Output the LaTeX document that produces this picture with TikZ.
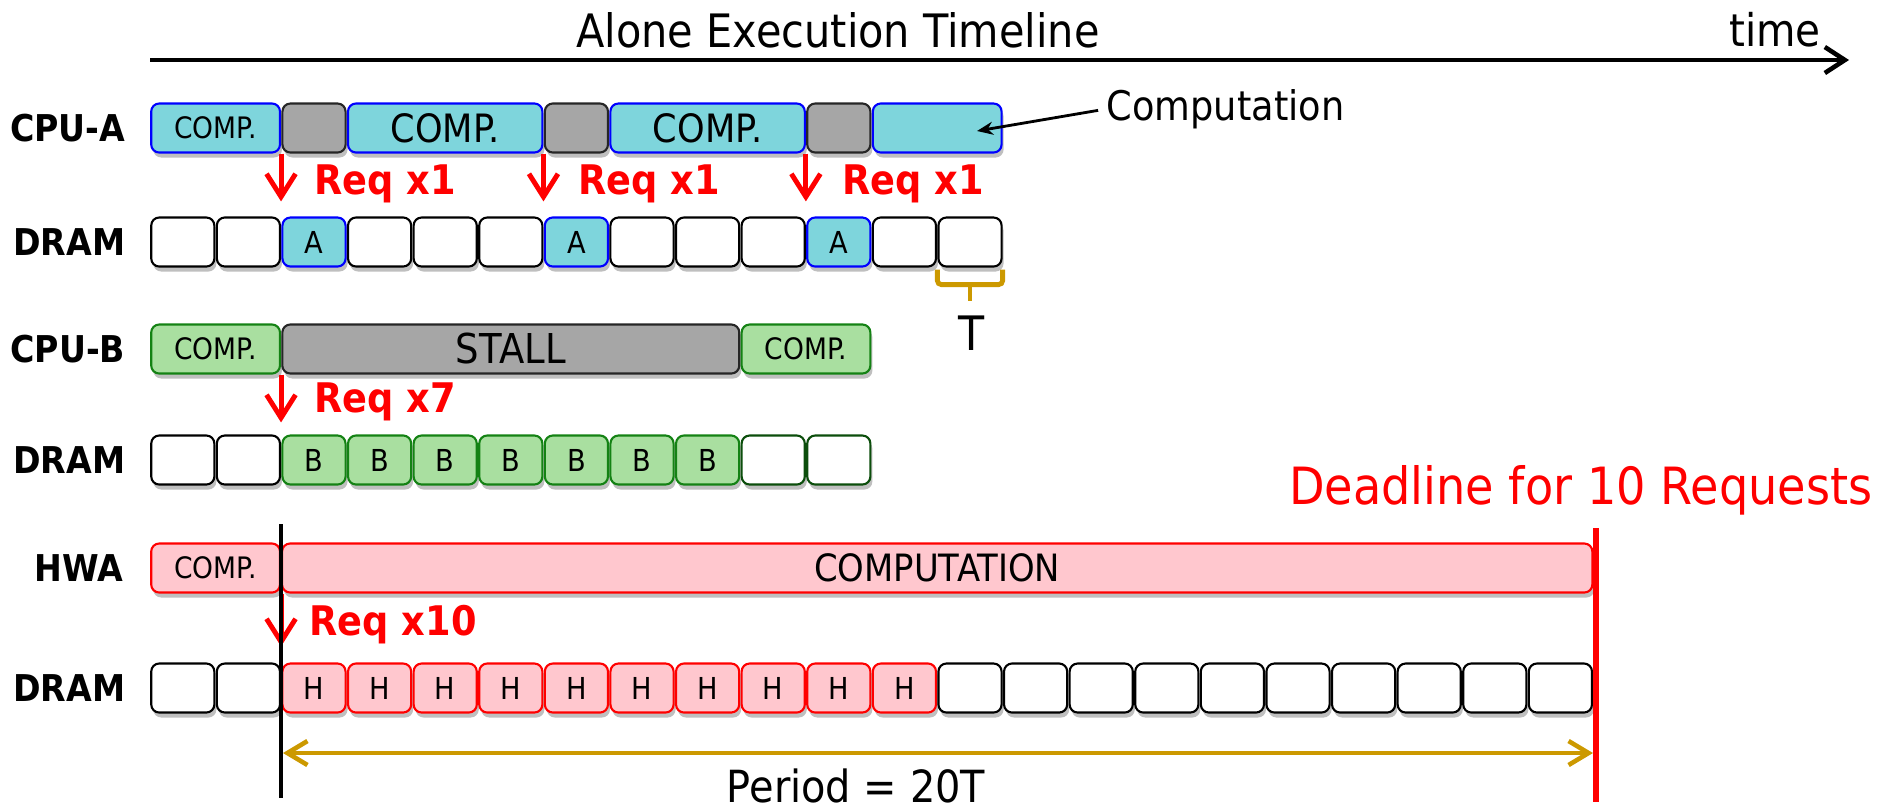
\documentclass[tikz,border=0pt]{standalone}
\usepackage{fontspec}
\setmainfont{DejaVu Sans}[FakeStretch=0.9]
\usetikzlibrary{arrows.meta,shadows}

\definecolor{cyanfill}{RGB}{126,213,220}
\definecolor{stallfill}{RGB}{166,166,166}
\definecolor{greenfill}{RGB}{169,223,160}
\definecolor{greenline}{RGB}{20,130,20}
\definecolor{pinkfill}{RGB}{255,199,206}
\definecolor{gold}{RGB}{204,153,0}

% one block of a row, spanning slots #3..#4 (slot width 65.6px, row starts at x=150)
\newcommand\seg[6]{\node[#1, minimum width={(#4-#3)*0.656cm-0.025cm}] (#2) at ({150+(#3+#4)*32.8},#5) {#6};}

\tikzset{
  blk/.style={rounded corners=0.08cm, minimum height=0.49cm, inner sep=0pt, line width=0.6pt,
    drop shadow={shadow xshift=0.02cm, shadow yshift=-0.05cm, opacity=0.25, fill=black}},
  cA/.style={blk, fill=cyanfill, draw=blue},
  stallbox/.style={blk, fill=stallfill, draw=black!85},
  cB/.style={blk, fill=greenfill, draw=greenline},
  cH/.style={blk, fill=pinkfill, draw=red},
  wcell/.style={blk, fill=white, draw=black},
  wcellg/.style={blk, fill=white, draw=greenline!60!black},
  txt/.style={inner sep=0pt},
  rowlbl/.style={txt, anchor=east, font=\bfseries\fontsize{10.5}{12}\selectfont},
  reqtxt/.style={txt, anchor=west, text=red, font=\bfseries\fontsize{11.6}{13}\selectfont},
  req/.style={draw=red, line width=1.4pt, -{Straight Barb[length=0.23cm, width=0.29cm, line width=1.4pt]}},
}
\newcommand\smallc{\fontsize{8.4}{10}\selectfont}
\newcommand\letterc{\fontsize{8.6}{10}\selectfont}

\begin{document}
\begin{tikzpicture}[x=0.01cm, y=-0.01cm]
\useasboundingbox (0,0) rectangle (1883,811);

% time axis
\coordinate (t0) at (150,60);
\coordinate (t1) at (1849,60);
\draw[line width=1.3pt, -{Straight Barb[length=0.2cm, width=0.26cm, line width=1.3pt]}] (t0) -- (t1);
\node[txt, font=\fontsize{13.1}{15}\selectfont] (title) at (838,30) {Alone Execution Timeline};
\node[txt, font=\fontsize{12.8}{15}\selectfont] (time) at (1775,30) {time};

% row labels
\node[rowlbl] (lA)  at (126,128) {CPU-A};
\node[rowlbl] (lDA) at (126,242) {DRAM};
\node[rowlbl] (lB)  at (126,349) {CPU-B};
\node[rowlbl] (lDB) at (126,460) {DRAM};
\node[rowlbl] (lH)  at (124,568) {HWA};
\node[rowlbl] (lDH) at (126,688) {DRAM};

% CPU-A
\seg{cA}{ca1}{0}{2}{128}{\smallc COMP.}
\seg{stallbox}{cg1}{2}{3}{128}{}
\seg{cA}{ca2}{3}{6}{128}{\fontsize{11.1}{13}\selectfont COMP.}
\seg{stallbox}{cg2}{6}{7}{128}{}
\seg{cA}{ca3}{7}{10}{128}{\fontsize{11.1}{13}\selectfont COMP.}
\seg{stallbox}{cg3}{10}{11}{128}{}
\seg{cA}{ca4}{11}{13}{128}{}

% DRAM for CPU-A
\foreach \i in {0,1,3,4,5,7,8,9,11,12} {\seg{wcell}{da\i}{\i}{\i+1}{242}{}}
\foreach \i in {2,6,10} {\seg{cA}{da\i}{\i}{\i+1}{242}{\letterc A}}

\draw[req, shorten >=0.15cm] (ca1.south east) -- (ca1.south east |- da2.north);
\draw[req, shorten >=0.15cm] (ca2.south east) -- (ca2.south east |- da6.north);
\draw[req, shorten >=0.15cm] (ca3.south east) -- (ca3.south east |- da10.north);
\node[reqtxt] (rA1) at (314,184) {Req x1};
\node[reqtxt] (rA2) at (578,184) {Req x1};
\node[reqtxt] (rA3) at (842,184) {Req x1};

% annotation of a computation block
\node[txt, anchor=west, font=\fontsize{11.6}{13}\selectfont] (compl) at (1106,109) {Computation};
\coordinate (comptip) at (977,131);
\draw[line width=0.8pt, -{Stealth[length=0.16cm, width=0.13cm]}, shorten <=0.08cm] (compl.west) -- (comptip);

% slot width brace
\draw[gold, line width=1.4pt, rounded corners=0.04cm] (da12.south west) ++(0,2) -- ++(0,15) -| ([yshift=-0.02cm]da12.south east);
\draw[gold, line width=1.4pt] (da12.south) ++(0,17) -- ++(0,16);
\node[txt, font=\fontsize{13.5}{15}\selectfont] (tlbl) at (972,333) {T};

% CPU-B
\seg{cB}{cb1}{0}{2}{349}{\smallc COMP.}
\seg{stallbox}{cb2}{2}{9}{349}{\fontsize{11.7}{14}\selectfont STALL}
\seg{cB}{cb3}{9}{11}{349}{\smallc COMP.}

% DRAM for CPU-B
\foreach \i in {0,1} {\seg{wcell}{db\i}{\i}{\i+1}{460}{}}
\foreach \i in {2,...,8} {\seg{cB}{db\i}{\i}{\i+1}{460}{\letterc B}}
\foreach \i in {9,10} {\seg{wcellg}{db\i}{\i}{\i+1}{460}{}}

\draw[req, shorten >=0.12cm] (cb1.south east) -- (cb1.south east |- db2.north);
\node[reqtxt] (rB) at (314,402) {Req x7};

% HWA
\seg{cH}{hw1}{0}{2}{568}{\smallc COMP.}
\seg{cH}{hw2}{2}{22}{568}{\fontsize{10.7}{13}\selectfont COMPUTATION}

% DRAM for HWA
\foreach \i in {0,1} {\seg{wcell}{dh\i}{\i}{\i+1}{688}{}}
\foreach \i in {2,...,11} {\seg{cH}{dh\i}{\i}{\i+1}{688}{\letterc H}}
\foreach \i in {12,...,21} {\seg{wcell}{dh\i}{\i}{\i+1}{688}{}}

\draw[req, shorten >=0.16cm] (hw1.south east) -- (hw1.south east |- dh2.north);
\node[reqtxt] (rH) at (309,625) {Req x10};

% period start and deadline markers
\coordinate (vtop) at (281,524);
\coordinate (vbot) at (281,798);
\draw[black, line width=1.2pt] (vtop) -- (vbot);
\coordinate (dtop) at (1596,528);
\coordinate (dbot) at (1596,802);
\draw[red, line width=1.8pt] (dtop) -- (dbot);
\node[txt, anchor=east, text=red, font=\fontsize{14.6}{17}\selectfont] (dl) at (1873,490) {Deadline for 10 Requests};

% period
\coordinate (p0) at (283,753);
\coordinate (p1) at (1593,753);
\draw[gold, line width=1.3pt, {Straight Barb[length=0.2cm, width=0.24cm, line width=1.3pt]}-{Straight Barb[length=0.2cm, width=0.24cm, line width=1.3pt]}] (p0) -- (p1);
\node[txt, font=\fontsize{12.6}{15}\selectfont] (per) at (856,786) {Period = 20T};
\end{tikzpicture}
\end{document}
